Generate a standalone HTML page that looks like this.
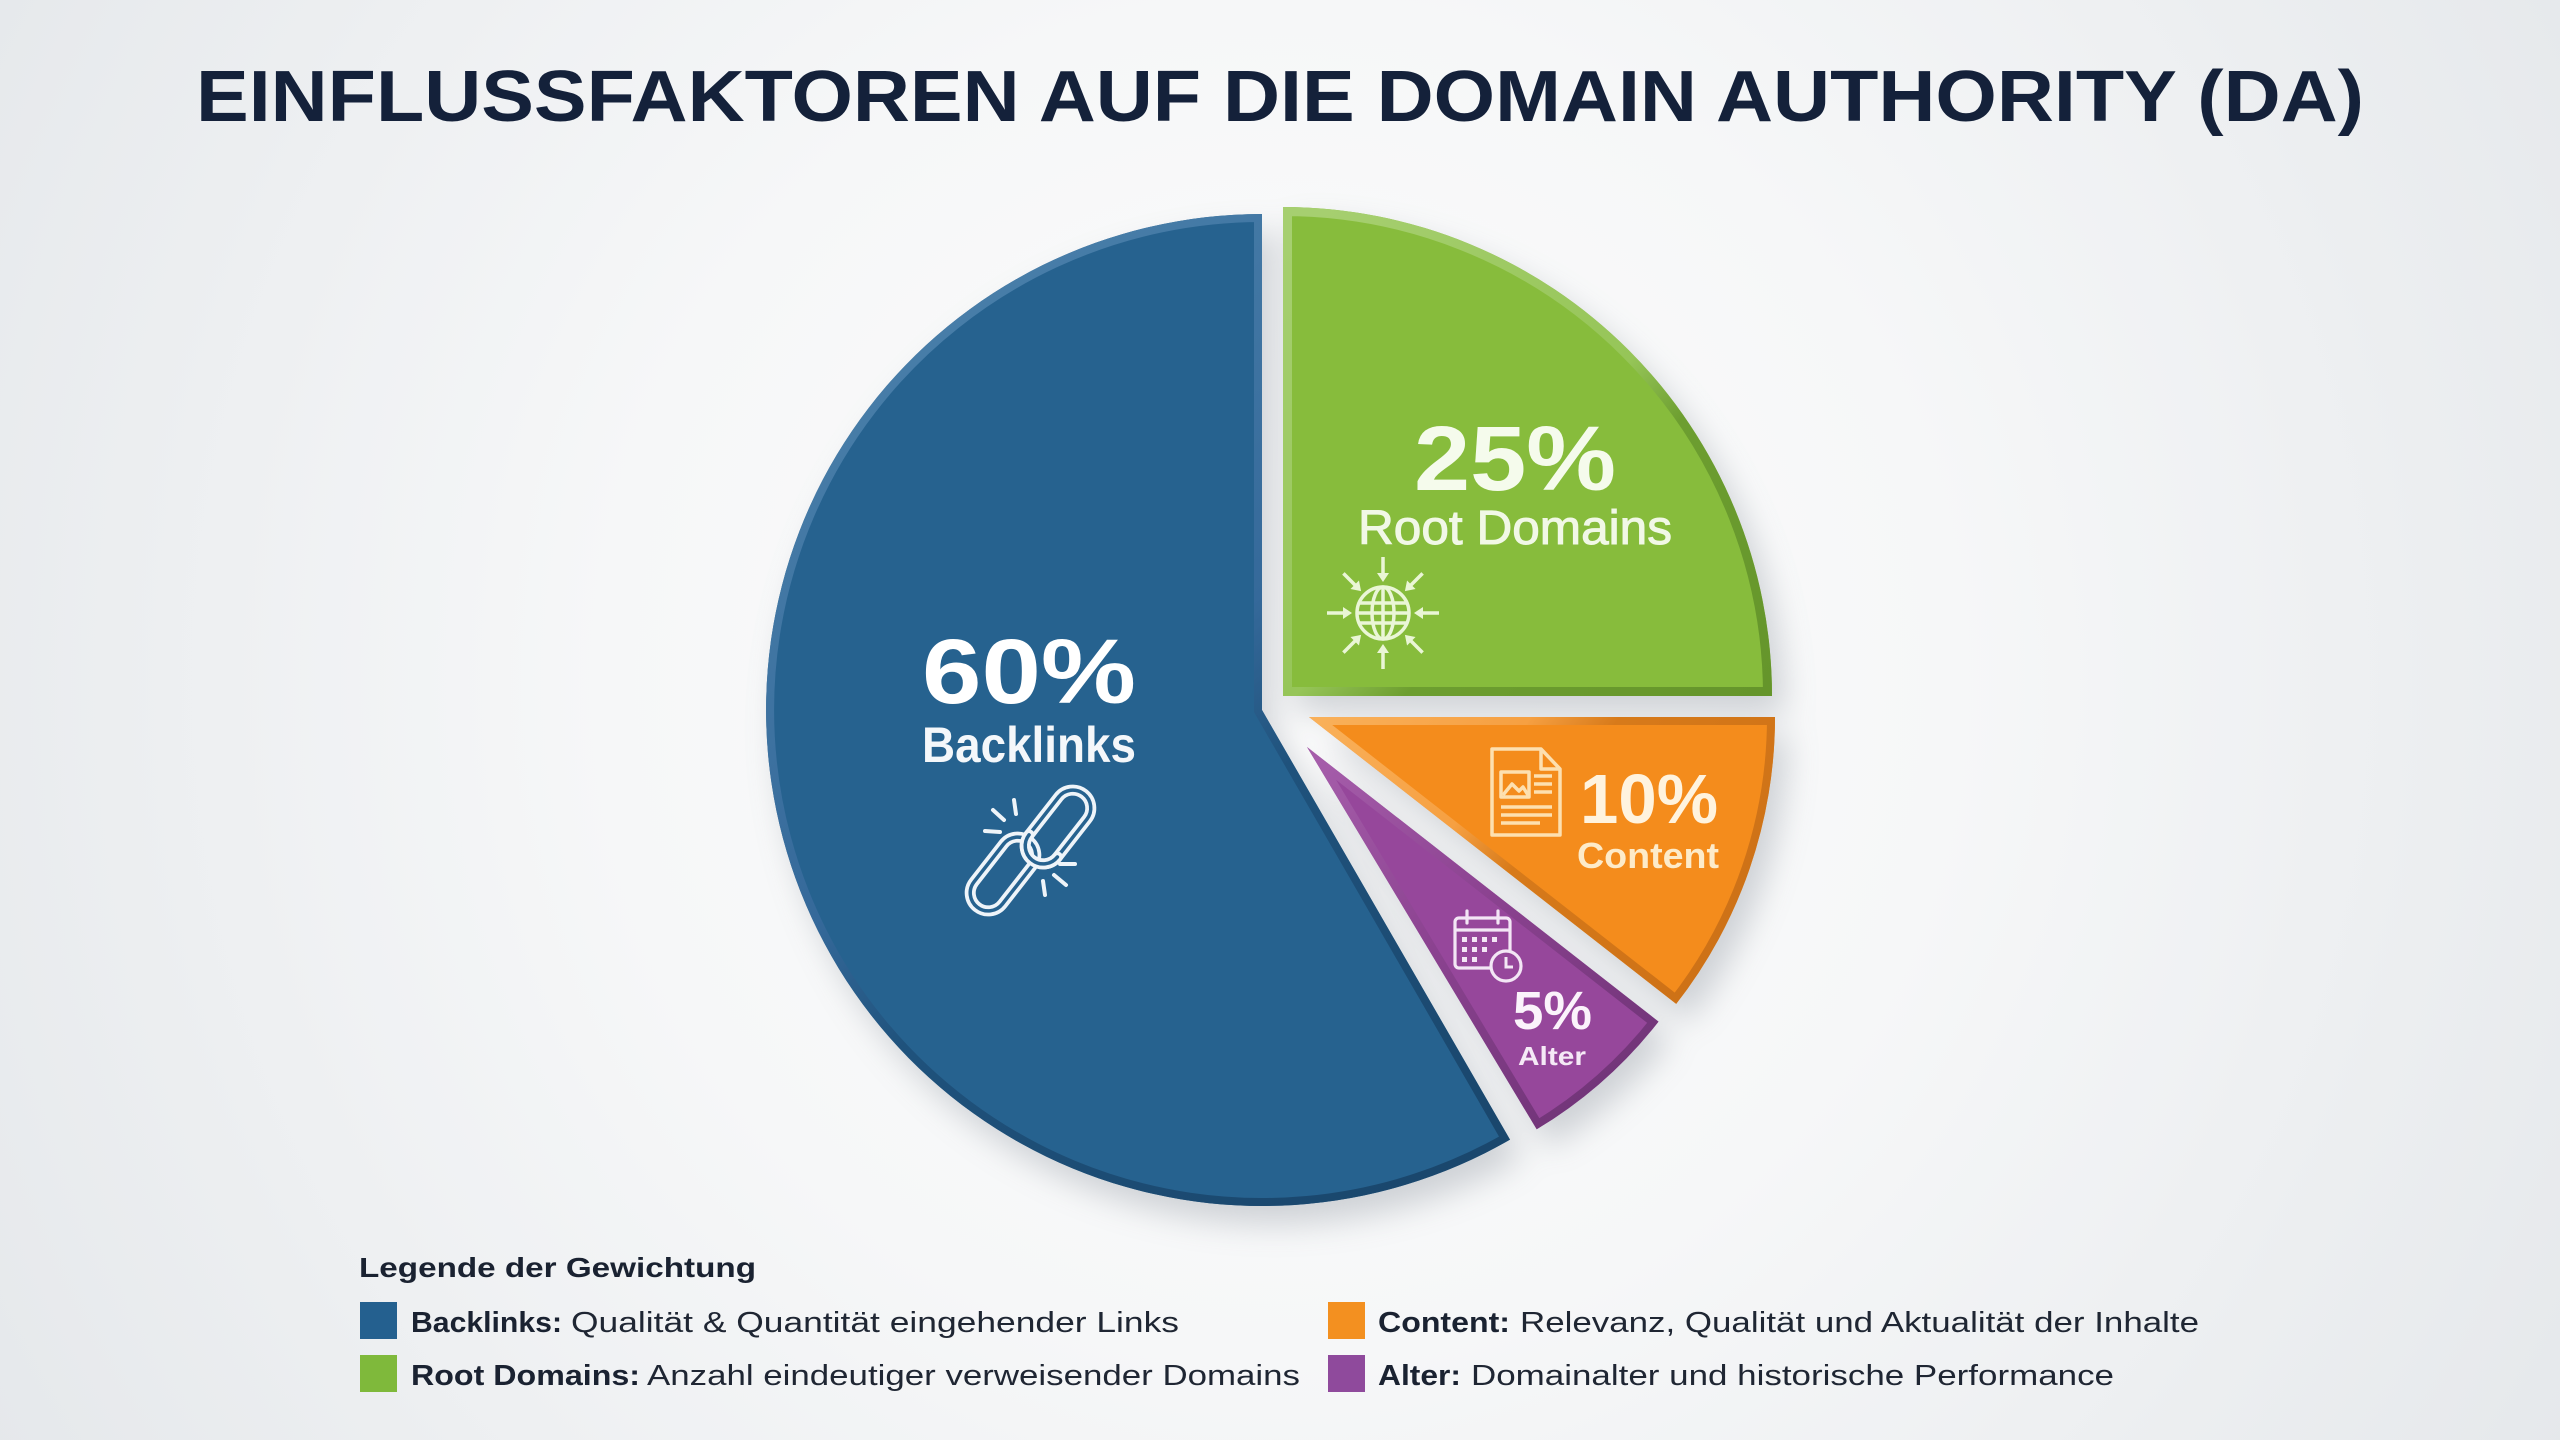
<!DOCTYPE html>
<html>
<head>
<meta charset="utf-8">
<style>
html,body{margin:0;padding:0;background:#eef0f2;}
svg{display:block;}
text{font-family:"Liberation Sans",sans-serif;}
</style>
</head>
<body>
<svg width="2560" height="1440" viewBox="0 0 2560 1440" xmlns="http://www.w3.org/2000/svg">
<defs>
  <radialGradient id="bg" cx="1280" cy="680" r="1500" gradientUnits="userSpaceOnUse">
    <stop offset="0" stop-color="#fdfdfd"/>
    <stop offset="0.45" stop-color="#f6f7f8"/>
    <stop offset="1" stop-color="#e5e8eb"/>
  </radialGradient>
  <filter id="sh" x="-30%" y="-30%" width="160%" height="160%">
    <feGaussianBlur stdDeviation="16"/>
  </filter>
  <path id="pBlue" d="M1262,710 L1262,214 A496,496 0 1 0 1510,1139.6 Z"/>
  <path id="pGreen" d="M1283,696 L1283,207 A489,489 0 0 1 1772,696 Z"/>
  <path id="pOrange" d="M1309,717 L1775,717 A466,466 0 0 1 1676.2,1003.9 Z"/>
  <path id="pPurple" d="M1307,747 L1658.5,1021.6 A446,446 0 0 1 1536.7,1129.3 Z"/>
  <clipPath id="cBlue"><use href="#pBlue"/></clipPath>
  <clipPath id="cGreen"><use href="#pGreen"/></clipPath>
  <clipPath id="cOrange"><use href="#pOrange"/></clipPath>
  <clipPath id="cPurple"><use href="#pPurple"/></clipPath>
  <linearGradient id="gBlue" x1="850" y1="330" x2="1450" y2="1150" gradientUnits="userSpaceOnUse">
    <stop offset="0" stop-color="#4a80aa"/>
    <stop offset="0.45" stop-color="#35699a"/>
    <stop offset="0.6" stop-color="#1f527c"/>
    <stop offset="1" stop-color="#1a476d"/>
  </linearGradient>
  <linearGradient id="gGreen" x1="1300" y1="230" x2="1760" y2="690" gradientUnits="userSpaceOnUse">
    <stop offset="0" stop-color="#a6cf70"/>
    <stop offset="0.5" stop-color="#96c558"/>
    <stop offset="0.62" stop-color="#6d9e30"/>
    <stop offset="1" stop-color="#65952b"/>
  </linearGradient>
  <linearGradient id="gOrange" x1="1320" y1="717" x2="1720" y2="1000" gradientUnits="userSpaceOnUse">
    <stop offset="0" stop-color="#f9b05a"/>
    <stop offset="0.35" stop-color="#f6a042"/>
    <stop offset="0.5" stop-color="#d77a1a"/>
    <stop offset="1" stop-color="#cc7016"/>
  </linearGradient>
  <linearGradient id="gPurple" x1="1320" y1="760" x2="1620" y2="1110" gradientUnits="userSpaceOnUse">
    <stop offset="0" stop-color="#a55daa"/>
    <stop offset="0.45" stop-color="#8c4391"/>
    <stop offset="1" stop-color="#6f3376"/>
  </linearGradient>
</defs>

<rect x="0" y="0" width="2560" height="1440" fill="url(#bg)"/>

<!-- Title -->
<text x="196" y="121" font-size="72" font-weight="bold" fill="#14213a" textLength="2168" lengthAdjust="spacingAndGlyphs">EINFLUSSFAKTOREN AUF DIE DOMAIN AUTHORITY (DA)</text>

<!-- Shadows -->
<g filter="url(#sh)" fill="#8a929c" opacity="0.38">
  <use href="#pBlue" transform="translate(12,18)"/>
  <use href="#pGreen" transform="translate(12,18)"/>
  <use href="#pOrange" transform="translate(12,18)"/>
  <use href="#pPurple" transform="translate(12,18)"/>
</g>

<!-- Slices -->
<use href="#pBlue" fill="#26628f"/>
<use href="#pBlue" fill="none" stroke="url(#gBlue)" stroke-width="16" clip-path="url(#cBlue)"/>

<use href="#pGreen" fill="#87bc3c"/>
<use href="#pGreen" fill="none" stroke="url(#gGreen)" stroke-width="18" clip-path="url(#cGreen)"/>

<use href="#pOrange" fill="#f48c1c"/>
<use href="#pOrange" fill="none" stroke="url(#gOrange)" stroke-width="16" clip-path="url(#cOrange)"/>

<use href="#pPurple" fill="#96479b"/>
<use href="#pPurple" fill="none" stroke="url(#gPurple)" stroke-width="16" clip-path="url(#cPurple)"/>

<!-- Blue labels -->
<text x="922" y="703" font-size="92" font-weight="bold" fill="#ffffff" textLength="214" lengthAdjust="spacingAndGlyphs">60%</text>
<text x="922" y="762" font-size="50" font-weight="bold" fill="#f4f7fa" textLength="214" lengthAdjust="spacingAndGlyphs">Backlinks</text>
<!-- chain icon -->
<g fill="none" stroke="#eef4f9" stroke-linecap="round">
  <g transform="rotate(-52 1058 827)">
    <rect x="1016" y="809" width="84" height="36" rx="18" stroke-width="11"/>
    <rect x="1016" y="809" width="84" height="36" rx="18" stroke="#26628f" stroke-width="3.5"/>
  </g>
  <g transform="rotate(-52 1003 874)">
    <rect x="961" y="856" width="84" height="36" rx="18" stroke-width="11"/>
    <rect x="961" y="856" width="84" height="36" rx="18" stroke="#26628f" stroke-width="3.5"/>
  </g>
  <!-- re-draw upper link's lower end over the lower link to interlock -->
  <g transform="rotate(-52 1058 827)" clip-path="none">
    <path d="M1034,809 A18,18 0 0 0 1034,845" stroke-width="11"/>
    <path d="M1034,809 A18,18 0 0 0 1034,845" stroke="#26628f" stroke-width="3.5"/>
  </g>
  <g stroke-width="4">
    <line x1="1014" y1="800" x2="1016" y2="814"/>
    <line x1="993" y1="810" x2="1004" y2="820"/>
    <line x1="985" y1="831" x2="1000" y2="832"/>
    <line x1="1060" y1="864" x2="1075" y2="864"/>
    <line x1="1054" y1="875" x2="1066" y2="885"/>
    <line x1="1043" y1="881" x2="1045" y2="895"/>
  </g>
</g>

<!-- Green labels -->
<text x="1414" y="490" font-size="92" font-weight="bold" fill="#f5fbec" textLength="202" lengthAdjust="spacingAndGlyphs">25%</text>
<text x="1358" y="544" font-size="48" fill="#f1f8e6" stroke="#f1f8e6" stroke-width="1" textLength="314" lengthAdjust="spacingAndGlyphs">Root Domains</text>
<!-- globe icon -->
<g stroke="#eaf6d6" fill="none" stroke-width="3.5">
  <circle cx="1383" cy="613" r="26"/>
  <ellipse cx="1383" cy="613" rx="11" ry="26"/>
  <line x1="1383" y1="587" x2="1383" y2="639"/>
  <line x1="1359" y1="603" x2="1407" y2="603"/>
  <line x1="1357" y1="613" x2="1409" y2="613"/>
  <line x1="1359" y1="623" x2="1407" y2="623"/>
</g>
<g stroke="#eaf6d6" fill="#eaf6d6" stroke-width="3.5">
  <g><line x1="1383" y1="557" x2="1383" y2="576"/><path d="M1377,573 L1383,582 L1389,573 Z" stroke="none"/></g>
  <g transform="rotate(45 1383 613)"><line x1="1383" y1="557" x2="1383" y2="576"/><path d="M1377,573 L1383,582 L1389,573 Z" stroke="none"/></g>
  <g transform="rotate(90 1383 613)"><line x1="1383" y1="557" x2="1383" y2="576"/><path d="M1377,573 L1383,582 L1389,573 Z" stroke="none"/></g>
  <g transform="rotate(135 1383 613)"><line x1="1383" y1="557" x2="1383" y2="576"/><path d="M1377,573 L1383,582 L1389,573 Z" stroke="none"/></g>
  <g transform="rotate(180 1383 613)"><line x1="1383" y1="557" x2="1383" y2="576"/><path d="M1377,573 L1383,582 L1389,573 Z" stroke="none"/></g>
  <g transform="rotate(225 1383 613)"><line x1="1383" y1="557" x2="1383" y2="576"/><path d="M1377,573 L1383,582 L1389,573 Z" stroke="none"/></g>
  <g transform="rotate(270 1383 613)"><line x1="1383" y1="557" x2="1383" y2="576"/><path d="M1377,573 L1383,582 L1389,573 Z" stroke="none"/></g>
  <g transform="rotate(315 1383 613)"><line x1="1383" y1="557" x2="1383" y2="576"/><path d="M1377,573 L1383,582 L1389,573 Z" stroke="none"/></g>
</g>

<!-- Orange labels -->
<text x="1580" y="823" font-size="70" font-weight="bold" fill="#fff3de" textLength="138" lengthAdjust="spacingAndGlyphs">10%</text>
<text x="1577" y="868" font-size="36" font-weight="bold" fill="#fdebc9" textLength="142" lengthAdjust="spacingAndGlyphs">Content</text>
<!-- document icon -->
<g stroke="#fde0b0" fill="none" stroke-width="3.5" stroke-linejoin="round">
  <path d="M1492,749 L1541,749 L1560,769 L1560,835 L1492,835 Z"/>
  <path d="M1541,749 L1541,769 L1560,769"/>
  <rect x="1501" y="772" width="28" height="25"/>
  <path d="M1503,795 L1512,784 L1519,791 L1523,787 L1528,795"/>
  <line x1="1534" y1="776" x2="1552" y2="776"/>
  <line x1="1534" y1="784" x2="1552" y2="784"/>
  <line x1="1534" y1="792" x2="1552" y2="792"/>
  <line x1="1501" y1="807" x2="1552" y2="807"/>
  <line x1="1501" y1="815" x2="1552" y2="815"/>
  <line x1="1501" y1="823" x2="1540" y2="823"/>
</g>

<!-- Purple labels -->
<text x="1513" y="1029" font-size="54" font-weight="bold" fill="#fbf3fb" textLength="79" lengthAdjust="spacingAndGlyphs">5%</text>
<text x="1518" y="1065" font-size="26" font-weight="bold" fill="#f5e9f6" textLength="68" lengthAdjust="spacingAndGlyphs">Alter</text>
<!-- calendar icon -->
<g stroke="#f3e6f5" fill="none" stroke-width="3.2">
  <rect x="1455" y="918" width="55" height="50" rx="4"/>
  <line x1="1455" y1="930" x2="1510" y2="930"/>
  <line x1="1467" y1="911" x2="1467" y2="923" stroke-linecap="round"/>
  <line x1="1498" y1="911" x2="1498" y2="923" stroke-linecap="round"/>
</g>
<g fill="#f3e6f5">
  <rect x="1462" y="937" width="5" height="5"/><rect x="1472" y="937" width="5" height="5"/><rect x="1482" y="937" width="5" height="5"/><rect x="1492" y="937" width="5" height="5"/>
  <rect x="1462" y="947" width="5" height="5"/><rect x="1472" y="947" width="5" height="5"/><rect x="1482" y="947" width="5" height="5"/>
  <rect x="1462" y="957" width="5" height="5"/><rect x="1472" y="957" width="5" height="5"/>
</g>
<circle cx="1506" cy="966" r="15" fill="#96479b" stroke="#f3e6f5" stroke-width="3.2"/>
<path d="M1506,957 L1506,967 L1513,967" fill="none" stroke="#f3e6f5" stroke-width="3"/>

<!-- Legend -->
<text x="359" y="1277" font-size="28" font-weight="bold" fill="#1a2231" textLength="397" lengthAdjust="spacingAndGlyphs">Legende der Gewichtung</text>

<rect x="360" y="1302" width="37" height="37" fill="#24608f"/>
<text x="411" y="1332" font-size="29" font-weight="bold" fill="#1a2231" textLength="151" lengthAdjust="spacingAndGlyphs">Backlinks:</text>
<text x="571" y="1332" font-size="29" fill="#1f2633" textLength="608" lengthAdjust="spacingAndGlyphs">Qualität &amp; Quantität eingehender Links</text>

<rect x="360" y="1355" width="37" height="37" fill="#7fb93b"/>
<text x="411" y="1385" font-size="29" font-weight="bold" fill="#1a2231" textLength="229" lengthAdjust="spacingAndGlyphs">Root Domains:</text>
<text x="647" y="1385" font-size="29" fill="#1f2633" textLength="653" lengthAdjust="spacingAndGlyphs">Anzahl eindeutiger verweisender Domains</text>

<rect x="1328" y="1302" width="37" height="37" fill="#f39020"/>
<text x="1378" y="1332" font-size="29" font-weight="bold" fill="#1a2231" textLength="132" lengthAdjust="spacingAndGlyphs">Content:</text>
<text x="1520" y="1332" font-size="29" fill="#1f2633" textLength="679" lengthAdjust="spacingAndGlyphs">Relevanz, Qualität und Aktualität der Inhalte</text>

<rect x="1328" y="1355" width="37" height="37" fill="#8f4a9c"/>
<text x="1378" y="1385" font-size="29" font-weight="bold" fill="#1a2231" textLength="83" lengthAdjust="spacingAndGlyphs">Alter:</text>
<text x="1471" y="1385" font-size="29" fill="#1f2633" textLength="643" lengthAdjust="spacingAndGlyphs">Domainalter und historische Performance</text>
</svg>
</body>
</html>
